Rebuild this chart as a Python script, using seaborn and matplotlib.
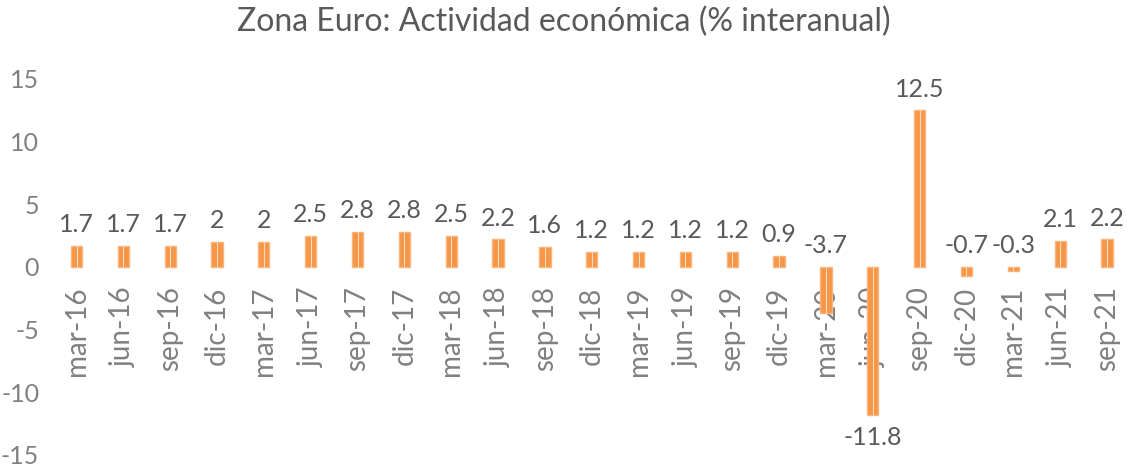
import matplotlib
matplotlib.use("Agg")
import matplotlib.pyplot as plt
import seaborn as sns

# datos: PIB zona euro, % interanual
periodos = ["mar-16", "jun-16", "sep-16", "dic-16", "mar-17", "jun-17", "sep-17", "dic-17",
            "mar-18", "jun-18", "sep-18", "dic-18", "mar-19", "jun-19", "sep-19", "dic-19",
            "mar-20", "jun-20", "sep-20", "dic-20", "mar-21", "jun-21", "sep-21"]
valores = [1.7, 1.7, 1.7, 2, 2, 2.5, 2.8, 2.8, 2.5, 2.2, 1.6, 1.2, 1.2, 1.2, 1.2, 0.9,
           -3.7, -11.8, 12.5, -0.7, -0.3, 2.1, 2.2]
yticks = [-15, -10, -5, 0, 5, 10, 15]

sns.set_style("white")
plt.rcParams["font.family"] = ["Lato", "DejaVu Sans"]
plt.rcParams["axes.unicode_minus"] = False

naranja = "#F79646"
fig = plt.figure(figsize=(11.27, 4.68), dpi=100)
ax = fig.add_axes([53.1 / 1127, 13 / 468, 1077.3 / 1127, 376 / 468])

sns.barplot(x=periodos, y=valores, color=naranja, saturation=1, width=0.24,
            edgecolor="#FAB47E", linewidth=1, ax=ax)
# linea clara en el centro de cada barra
ax.vlines(range(len(valores)), 0, valores, color="#FDDCC2", lw=0.8, zorder=3)

ax.set_ylim(-15, 15)
ax.set_xlim(-0.5, len(periodos) - 0.5)
ax.set_yticks(yticks)
ax.set_yticklabels([str(t) for t in yticks], color="#808080", fontsize=18)
ax.tick_params(axis="y", length=0, pad=10)

# etiquetas del eje x pegadas a la linea de cero
ax.spines["bottom"].set_position(("data", 0))
ax.tick_params(axis="x", length=0, pad=14, labelrotation=90, labelcolor="#808080", labelsize=20)
for lbl in ax.get_xticklabels():
    lbl.set_verticalalignment("top")
ax.set_xlabel("")
ax.set_ylabel("")
sns.despine(ax=ax, left=True, bottom=True, top=True, right=True)

for i, v in enumerate(valores):
    if v < -5:
        ax.annotate(f"{v:g}", (i, v), xytext=(0, -8), textcoords="offset points",
                    ha="center", va="top", fontsize=18, color="#595959")
    else:
        ax.annotate(f"{v:g}", (i, max(v, 0)), xytext=(0, 7), textcoords="offset points",
                    ha="center", va="bottom", fontsize=18, color="#595959")

fig.suptitle("Zona Euro: Actividad económica (% interanual)", y=0.985, fontsize=23,
             color="#595959")

fig.savefig("out.png", dpi=100)
